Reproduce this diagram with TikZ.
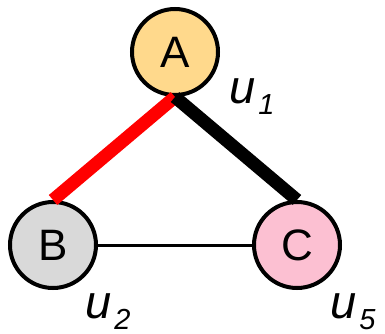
\documentclass[tikz,border=0pt]{standalone}
\usepackage{fontspec}
\setmainfont{Liberation Sans}
\definecolor{fillA}{RGB}{255,217,140}
\definecolor{fillB}{RGB}{217,217,217}
\definecolor{fillC}{RGB}{252,192,210}
\definecolor{redE}{RGB}{255,0,0}
\newcommand{\ulab}[1]{u\kern3pt\raisebox{-11pt}{\fontsize{29}{29}\selectfont #1}}
\begin{document}
\begin{tikzpicture}[x=1pt,y=-1pt,
  vertex/.style={circle,draw=black,line width=4pt,minimum size=86pt,inner sep=0pt,
    font=\fontsize{44}{44}\selectfont},
  ulabel/.style={anchor=base west,inner sep=0pt,font=\fontsize{47}{47}\selectfont\itshape},
  thickedge/.style={line width=13pt},
  thinedge/.style={line width=3pt}]
\useasboundingbox (0,0) rectangle (385,334);
\node[vertex,fill=fillA] (A) at (175,52) {A};
\node[vertex,fill=fillB] (B) at (53,245) {B};
\node[vertex,fill=fillC] (C) at (297,245) {C};
\draw[thinedge] (B.east) -- (C.west);
\draw[thickedge,draw=redE] (A.south) -- (B.north);
\draw[thickedge,draw=black] (A.south) -- (C.north);
\node[ulabel] (u1) at (229,103) {\ulab{1}};
\node[ulabel] (u2) at (85,318) {\ulab{2}};
\node[ulabel] (u5) at (330,318) {\ulab{5}};
\end{tikzpicture}
\end{document}
